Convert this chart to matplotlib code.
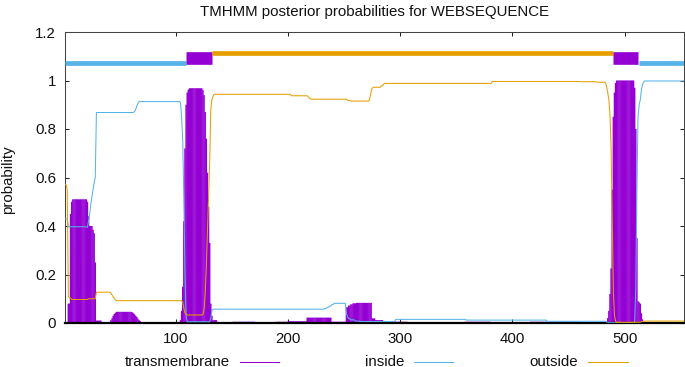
import numpy as np
import matplotlib
matplotlib.use("Agg")
import matplotlib.pyplot as plt
from matplotlib.lines import Line2D

SEQ_LEN = 553

# Per-residue posterior probabilities, stored as step runs:
# value holds from the given residue until the next listed residue.
tm_start = [1, 4, 6, 7, 8, 21, 22, 23, 26, 27, 28, 29, 34,
            39, 42, 43, 44, 45, 46, 47, 61, 62, 63, 64, 65, 66, 67, 68, 69, 71,
            104, 105, 106, 107, 108, 109, 110, 111, 112, 124, 125, 126, 127, 128,
            129, 130, 131, 132, 133, 137,
            151, 171, 190, 200, 217, 239, 252, 254, 256, 258, 261, 275, 278, 285, 307,
            358, 381, 416, 461, 478,
            485, 486, 487, 488, 489, 490, 491, 492, 493, 509, 510, 511, 512, 513,
            514, 515, 516, 517, 519]
tm_value = [0.0, 0.08, 0.45, 0.50, 0.51, 0.50, 0.44, 0.40, 0.385, 0.37, 0.25, 0.01, 0.0,
            0.004, 0.012, 0.02, 0.03, 0.037, 0.042, 0.046, 0.044, 0.04, 0.036, 0.03, 0.025,
            0.018, 0.012, 0.008, 0.004, 0.0,
            0.012, 0.05, 0.15, 0.42, 0.72, 0.90, 0.95, 0.962, 0.968, 0.96, 0.94, 0.87, 0.76,
            0.62, 0.48, 0.33, 0.08, 0.03, 0.012, 0.0,
            0.005, 0.0, 0.005, 0.007, 0.022, 0.005, 0.065, 0.072, 0.077, 0.081, 0.083,
            0.019, 0.012, 0.005, 0.0,
            0.005, 0.0, 0.005, 0.0, 0.005,
            0.02, 0.05, 0.12, 0.225, 0.55, 0.85, 0.95, 0.99, 1.0, 0.97, 0.8, 0.35, 0.09,
            0.085, 0.08, 0.04, 0.015, 0.004, 0.0]

inside_start = [1, 4, 20, 22, 23, 24, 25, 26, 27, 28, 29, 63, 64, 65, 66, 67,
                104, 105, 106, 107, 108, 109, 110, 131, 132, 133,
                233, 235, 237, 239, 241, 252, 253, 254, 256, 260, 264, 296, 359, 431,
                484, 486, 510, 511, 512, 513, 514, 515, 516, 517, 518]
inside_value = [0.43, 0.397, 0.395, 0.42, 0.45, 0.49, 0.52, 0.55, 0.58, 0.60, 0.868,
                0.872, 0.88, 0.895, 0.905, 0.913,
                0.91, 0.85, 0.75, 0.50, 0.20, 0.03, 0.005, 0.02, 0.05, 0.057,
                0.06, 0.065, 0.07, 0.076, 0.081, 0.04, 0.025, 0.018, 0.013, 0.008, 0.006,
                0.015, 0.012, 0.007,
                0.004, 0.001, 0.15, 0.55, 0.85, 0.90, 0.92, 0.96, 0.985, 0.993, 0.998]

outside_start = [1, 3, 4, 5, 7, 22, 29, 42, 43, 44, 45, 46, 47,
                 106, 107, 108, 109, 110, 124, 125, 126, 127, 128, 129, 130, 131, 132,
                 133, 134, 203, 218, 219, 220, 253, 256, 273, 274, 275, 276, 283, 285, 286,
                 382, 460, 475, 483, 484, 485, 486, 487, 488, 489, 490, 491, 492, 493,
                 515, 518]
outside_value = [0.57, 0.55, 0.11, 0.103, 0.097, 0.10, 0.127, 0.122, 0.115, 0.108, 0.101,
                 0.096, 0.092,
                 0.085, 0.06, 0.042, 0.035, 0.033, 0.035, 0.055, 0.12, 0.23, 0.37, 0.51,
                 0.66, 0.88, 0.92, 0.935, 0.943, 0.937, 0.932, 0.927, 0.923, 0.918, 0.915,
                 0.93, 0.955, 0.968, 0.972, 0.978, 0.984, 0.988,
                 0.996, 0.995, 0.993, 0.99, 0.975, 0.95, 0.92, 0.86, 0.72, 0.42, 0.13,
                 0.03, 0.008, 0.003, 0.006, 0.008]

# Predicted topology (drawn as bars above the curves)
topo_start = [1, 109, 132, 489.5, 513]
topo_end = [109, 132, 489.5, 512, 553]
topo_kind = ["inside", "TMhelix", "outside", "TMhelix", "inside"]

series_labels = ["transmembrane", "inside", "outside"]
title_text = "TMHMM posterior probabilities for WEBSEQUENCE"
y_label = "probability"
x_ticks = [100, 200, 300, 400, 500]
y_ticks = [0, 0.2, 0.4, 0.6, 0.8, 1.0, 1.2]
y_tick_labels = ["0", "0.2", "0.4", "0.6", "0.8", "1", "1.2"]

C_TM = "#9400d3"
C_IN = "#56b4e9"
C_OUT = "#e69f00"


def expand(starts, values):
    residues = np.arange(1, SEQ_LEN + 1)
    idx = np.searchsorted(np.asarray(starts), residues, side="right") - 1
    return residues, np.asarray(values, dtype=float)[idx]


plt.rcParams["font.family"] = ["Liberation Sans", "DejaVu Sans"]
plt.rcParams["font.size"] = 10.8

W, H = 685, 367
fig = plt.figure(figsize=(W / 100, H / 100), dpi=100)
L, R, T, B = 65, 684, 32, 323
ax = fig.add_axes([L / W, 1 - B / H, (R - L) / W, (B - T) / H])

res, tm = expand(tm_start, tm_value)
_, inside = expand(inside_start, inside_value)
_, outside = expand(outside_start, outside_value)

imp = ax.vlines(res, 0, tm, colors=C_TM, linewidth=1.08, zorder=2)
imp.set_snap(False)
ax.plot(res, inside, color=C_IN, linewidth=0.75, zorder=3)
ax.plot(res, outside, color=C_OUT, linewidth=0.75, zorder=3)

style = {"inside": (C_IN, 1.071, 3.4), "outside": (C_OUT, 1.112, 3.4),
         "TMhelix": (C_TM, 1.093, 9.1)}
for s, e, k in zip(topo_start, topo_end, topo_kind):
    c, yv, lw = style[k]
    ax.plot([s, e], [yv, yv], color=c, linewidth=lw, solid_capstyle="butt", zorder=4)

ax.set_xlim(1, SEQ_LEN)
ax.set_ylim(0, 1.2)
ax.set_xticks(x_ticks)
ax.set_xticklabels([str(v) for v in x_ticks])
ax.set_yticks(y_ticks)
ax.set_yticklabels(y_tick_labels)
ax.tick_params(direction="in", length=3, width=0.75, top=True, right=True,
               pad=6.5, colors="#222222", labelcolor="#111111")

for side in ["left", "top", "right"]:
    ax.spines[side].set_color("#444444")
    ax.spines[side].set_linewidth(0.75)
ax.spines["bottom"].set_color("black")
ax.spines["bottom"].set_linewidth(1.6)

fig.text((L + R) / 2 / W, 1 - 16 / H, title_text, ha="center", va="baseline",
         color="#111111")
fig.text(8.5 / W, 1 - 180 / H, y_label, rotation=90, ha="center", va="center",
         color="#111111")

# key below the plot
text_right = [230, 404, 578]
sample_x = [(240, 279), (414, 453), (588, 628)]
key_colors = [C_TM, C_IN, C_OUT]
for lab, tr, (x0, x1), c in zip(series_labels, text_right, sample_x, key_colors):
    fig.text(tr / W, 1 - 365.5 / H, lab, ha="right", va="baseline", color="#111111")
    fig.add_artist(Line2D([x0 / W, x1 / W], [1 - 361.7 / H, 1 - 361.7 / H],
                          color=c, linewidth=0.75, transform=fig.transFigure))

fig.savefig("out.png", dpi=100)
